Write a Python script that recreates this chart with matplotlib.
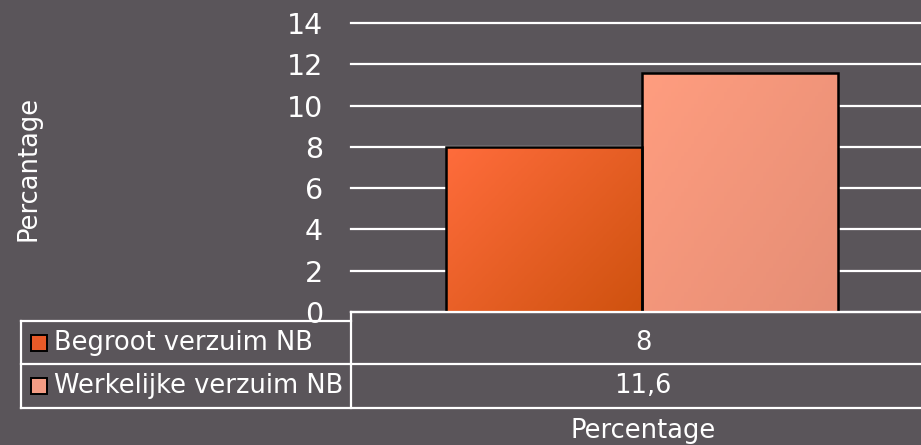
import numpy as np
import matplotlib.pyplot as plt
from matplotlib.lines import Line2D
from matplotlib.patches import Rectangle
from matplotlib.colors import LinearSegmentedColormap

series = ["Begroot verzuim NB", "Werkelijke verzuim NB"]
values = [8, 11.6]
value_labels = ["8", "11,6"]
category = "Percentage"
yticks = [0, 2, 4, 6, 8, 10, 12, 14]

bg = "#5a555a"
grad = [("#ff6c3c", "#cf520f"), ("#ff9d7f", "#e58e76")]
swatch = ["#e85a28", "#f39c84"]

plt.rcParams["font.family"] = ["DejaVu Sans"]

W, H = 921, 445
fig = plt.figure(figsize=(W / 100, H / 100), dpi=100, facecolor=bg)


def fx(px):
    return px / W


def fy(py):
    return 1 - py / H


ax = fig.add_axes([fx(351), fy(312), fx(570), 289 / H])
ax.set_facecolor(bg)
ax.set_ylim(0, 14)
bw = 0.336
ax.set_xlim(-0.5, 0.479)
ax.set_yticks(yticks)
ax.yaxis.grid(True, color="white", lw=1.6)
for gl in ax.get_ygridlines():
    gl.set_clip_on(False)
ax.set_axisbelow(True)
for s in ax.spines.values():
    s.set_visible(False)
ax.tick_params(axis="y", length=0, pad=20, labelsize=20.5, labelcolor="white")
ax.tick_params(axis="x", length=0, labelbottom=False)

xs = [-bw / 2, bw / 2]
for i, (x, v) in enumerate(zip(xs, values)):
    bar = ax.bar(x, v, width=bw, color="none", edgecolor="black", lw=1.8, zorder=3)[0]
    cmap = LinearSegmentedColormap.from_list("g", list(grad[i]))
    gx, gy = np.meshgrid(np.linspace(0, 1, 60), np.linspace(0, 1, 60))
    g = 0.55 * gx + 0.45 * gy
    im = ax.imshow(g, cmap=cmap, extent=[x - bw / 2, x + bw / 2, 0, v],
                   origin="upper", aspect="auto", zorder=2, vmin=0, vmax=1)
    im.set_clip_path(bar)
ax.set_xlim(-0.5, 0.479)
ax.set_ylim(0, 14)

# data table under the plot
lc = "white"
lw = 1.6
fig.add_artist(Line2D([fx(351), 1], [fy(312), fy(312)], color=lc, lw=lw, transform=fig.transFigure))
fig.add_artist(Line2D([fx(21), fx(351)], [fy(321), fy(321)], color=lc, lw=lw, transform=fig.transFigure))
for yy in (364, 408):
    fig.add_artist(Line2D([fx(21), 1], [fy(yy), fy(yy)], color=lc, lw=lw, transform=fig.transFigure))
fig.add_artist(Line2D([fx(21), fx(21)], [fy(321), fy(408)], color=lc, lw=lw, transform=fig.transFigure))
fig.add_artist(Line2D([fx(351), fx(351)], [fy(312), fy(408)], color=lc, lw=lw, transform=fig.transFigure))

fs = 18.5
rows_y = [342.5, 386]
for i, name in enumerate(series):
    fig.add_artist(Rectangle((fx(31), fy(rows_y[i] + 8)), fx(16), 16 / H,
                             facecolor=swatch[i], edgecolor="black", lw=1.4,
                             transform=fig.transFigure))
    fig.text(fx(54), fy(rows_y[i]), name, color="white", fontsize=fs,
             ha="left", va="center")
    fig.text(fx(643), fy(rows_y[i]), value_labels[i], color="white", fontsize=fs,
             ha="center", va="center")

fig.text(fx(643), fy(431), category, color="white", fontsize=fs, ha="center", va="center")
fig.text(fx(28), fy(168), "Percantage", color="white", fontsize=fs, ha="center",
         va="center", rotation=90)

fig.savefig("out.png", dpi=100, facecolor=bg)
